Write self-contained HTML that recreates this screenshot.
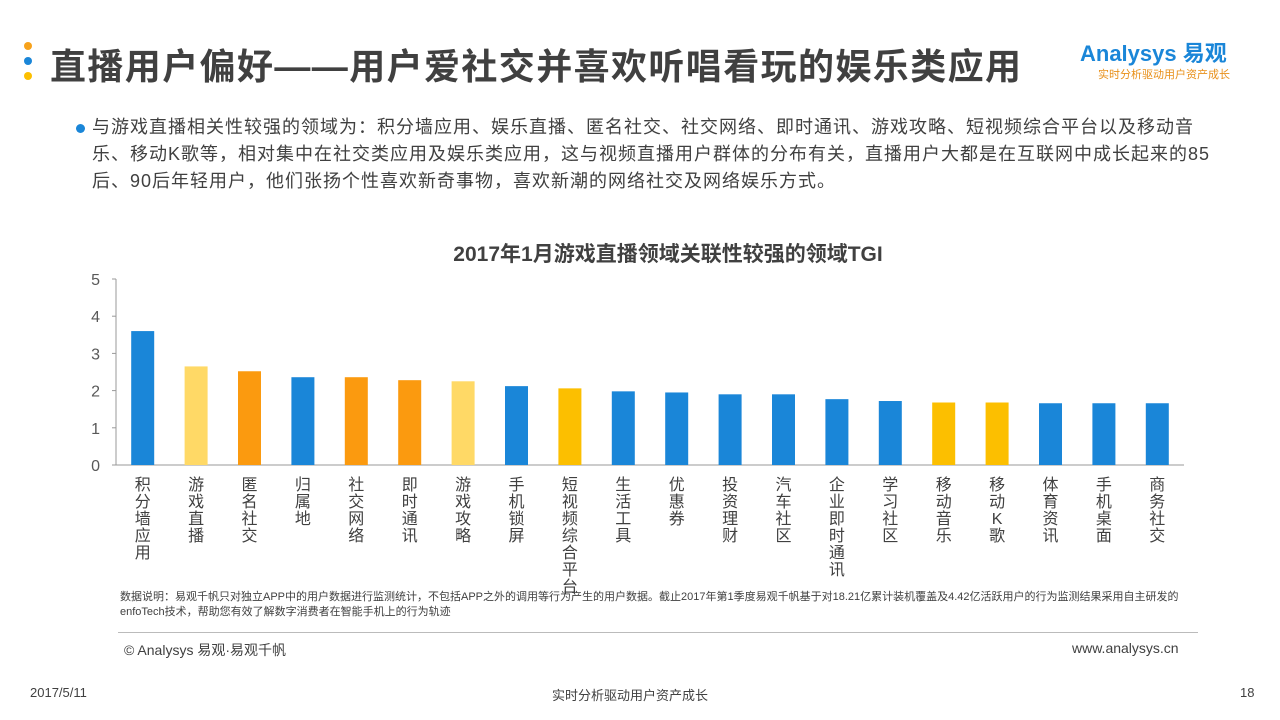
<!DOCTYPE html>
<html><head><meta charset="utf-8"><style>
body{margin:0;width:1280px;height:720px;background:#fff;position:relative;overflow:hidden;font-family:"Liberation Sans","Noto Sans CJK SC",sans-serif;color:#404040}
.a{position:absolute}
</style></head><body>
<div class="a" style="left:24px;top:42px">
<div style="width:8px;height:8px;border-radius:4px;background:#f7a21b;margin-bottom:7px"></div>
<div style="width:8px;height:8px;border-radius:4px;background:#1a86d8;margin-bottom:7px"></div>
<div style="width:8px;height:8px;border-radius:4px;background:#fcbf00"></div></div>
<div class="a" style="left:50px;top:38px;font-size:36px;font-weight:bold;color:#404040;letter-spacing:1.4px;white-space:nowrap">直播用户偏好——用户爱社交并喜欢听唱看玩的娱乐类应用</div>
<div class="a" style="left:1080px;top:36px;color:#1a86d8;font-size:22px;font-weight:bold">Analysys 易观</div>
<div class="a" style="left:1098px;top:66px;color:#e8901a;font-size:11px">实时分析驱动用户资产成长</div>
<div class="a" style="left:76px;top:124px;width:9px;height:9px;border-radius:5px;background:#1a86d8"></div>
<div class="a" style="left:92px;top:114px;font-size:18px;letter-spacing:1.0px;line-height:27px;color:#404040;white-space:nowrap">与游戏直播相关性较强的领域为：积分墙应用、娱乐直播、匿名社交、社交网络、即时通讯、游戏攻略、短视频综合平台以及移动音<br>乐、移动K歌等，相对集中在社交类应用及娱乐类应用，这与视频直播用户群体的分布有关，直播用户大都是在互联网中成长起来的85<br>后、90后年轻用户，他们张扬个性喜欢新奇事物，喜欢新潮的网络社交及网络娱乐方式。</div>
<div class="a" style="left:0;width:1336px;text-align:center;top:238px;font-size:21px;font-weight:bold;color:#404040">2017年1月游戏直播领域关联性较强的领域TGI</div>
<svg class="a" id="chart" style="left:0;top:0" width="1280" height="720"></svg>
<div class="a" style="left:120px;top:590px;font-size:11px;line-height:15px;width:1080px;color:#404040">数据说明：易观千帆只对独立APP中的用户数据进行监测统计，不包括APP之外的调用等行为产生的用户数据。截止2017年第1季度易观千帆基于对18.21亿累计装机覆盖及4.42亿活跃用户的行为监测结果采用自主研发的enfoTech技术，帮助您有效了解数字消费者在智能手机上的行为轨迹</div>
<div class="a" style="left:118px;top:632px;width:1080px;height:1px;background:#bbb"></div>
<div class="a" style="left:124px;top:640px;font-size:14px">© Analysys 易观·易观千帆</div>
<div class="a" style="left:1072px;top:640px;font-size:14px">www.analysys.cn</div>
<div class="a" style="left:30px;top:685px;font-size:13px">2017/5/11</div>
<div class="a" style="left:552px;top:685px;font-size:13px">实时分析驱动用户资产成长</div>
<div class="a" style="left:1240px;top:685px;font-size:13px">18</div>
<script>
const categories=["积分墙应用","游戏直播","匿名社交","归属地","社交网络","即时通讯","游戏攻略","手机锁屏","短视频综合平台","生活工具","优惠券","投资理财","汽车社区","企业即时通讯","学习社区","移动音乐","移动K歌","体育资讯","手机桌面","商务社交"];
const values=[3.6,2.65,2.52,2.36,2.36,2.28,2.25,2.12,2.06,1.98,1.95,1.9,1.9,1.77,1.72,1.68,1.68,1.66,1.66,1.66];
const colorGroups=[0,1,2,0,2,2,1,0,3,0,0,0,0,0,0,3,3,0,0,0];
const yTicks=[0,1,2,3,4,5];
const palette=["#1a86d8","#ffd966","#fb9a0f","#fcbf00"];
const svg=document.getElementById('chart');const NS='http://www.w3.org/2000/svg';
const x0=116,x1=1184,y0=465,y5=279;
const y=v=>y0-(v/5)*(y0-y5);
const step=(x1-x0)/categories.length;
const xc=i=>x0+step*(i+0.5);
function mk(t,a){const e=document.createElementNS(NS,t);for(const k in a)e.setAttribute(k,a[k]);svg.appendChild(e);return e;}
let e=mk('line',{x1:x0,y1:y5,x2:x0,y2:y0,stroke:'#999'});

e=mk('line',{x1:x0,y1:y0,x2:x1,y2:y0,stroke:'#999'});

yTicks.forEach(t=>{
 const l=mk('line',{x1:x0-4,y1:y(t),x2:x0,y2:y(t),stroke:'#999'});
 
 const tx=mk('text',{x:100,y:y(t)+6,'text-anchor':'end','font-size':16,fill:'#595959'});tx.textContent=t;
 
});
categories.forEach((c,i)=>{
 const r=mk('rect',{x:xc(i)-11.5,y:y(values[i]),width:23,height:y0-y(values[i]),fill:palette[colorGroups[i]]});
 
 const chars=[...c];
 chars.forEach((ch,k)=>{
  const t=mk('text',{x:xc(i),y:490+k*17,'text-anchor':'middle','font-size':16,fill:'#404040'});t.textContent=ch;
  
 });
});
</script>
</body></html>
